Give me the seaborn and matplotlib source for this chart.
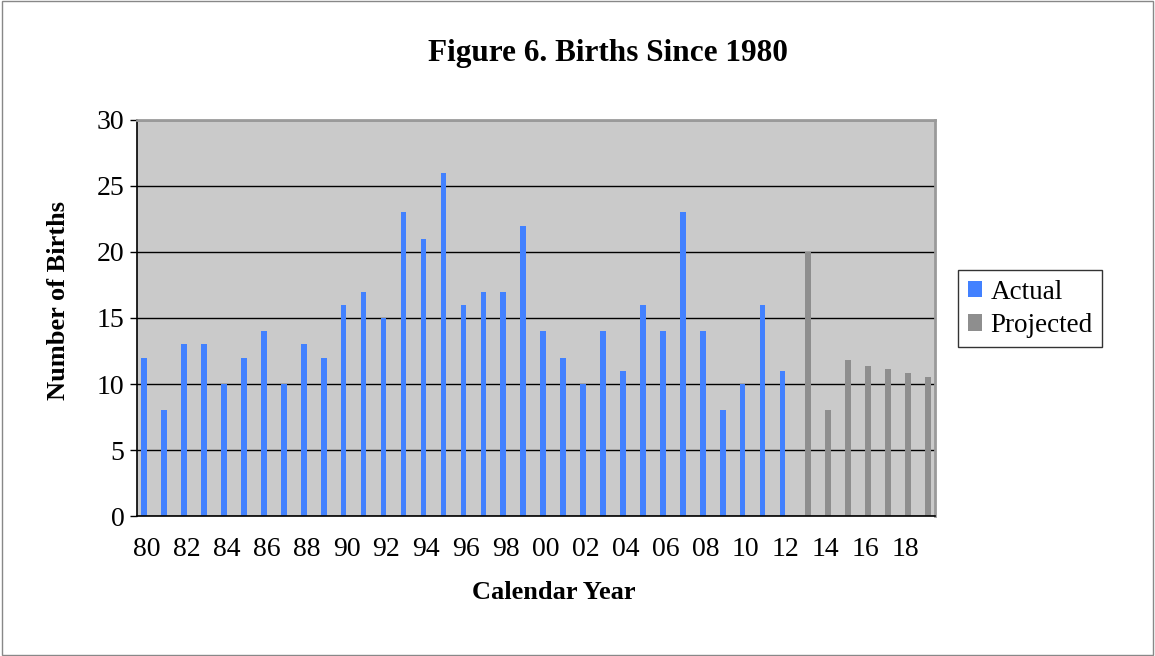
"""Births since 1980: actual vs projected, Excel-style bar chart."""

import matplotlib
matplotlib.use("Agg")
import matplotlib.pyplot as plt
import numpy as np
import pandas as pd
import seaborn as sns
from matplotlib.patches import Rectangle

YEARS = [f"{y % 100:02d}" for y in range(1980, 2020)]
ACTUAL_YEARS = YEARS[:33]
PROJECTED_YEARS = YEARS[33:]
ACTUAL = [12, 8, 13, 13, 10, 12, 14, 10, 13, 12, 16, 17, 15, 23, 21, 26, 16,
          17, 17, 22, 14, 12, 10, 14, 11, 16, 14, 23, 14, 8, 10, 16, 11]
PROJECTED = [20, 8, 11.8, 11.4, 11.1, 10.8, 10.5]

BLUE = "#4281ff"
GREY = "#8e8e8e"
SERIF = ["Liberation Serif", "DejaVu Serif"]


def main() -> None:
    df = pd.concat([
        pd.DataFrame({"year": ACTUAL_YEARS, "births": ACTUAL, "series": "Actual"}),
        pd.DataFrame({"year": PROJECTED_YEARS, "births": PROJECTED, "series": "Projected"}),
    ], ignore_index=True)

    sns.set_theme(style="white")
    plt.rcParams["font.family"] = SERIF
    for key in ("text.color", "axes.labelcolor", "xtick.color", "ytick.color"):
        plt.rcParams[key] = "black"

    fig = plt.figure(figsize=(11.55, 6.56), dpi=100)
    ax = fig.add_axes([0.1186, 0.2134, 0.6909, 0.6037])
    ax.set_facecolor("#cacaca")

    sns.barplot(data=df, x="year", y="births", hue="series", order=YEARS,
                hue_order=["Actual", "Projected"], palette=[BLUE, GREY],
                width=0.56, dodge=True, saturation=1, linewidth=0,
                ax=ax, legend=True)

    ax.set_xlim(-0.5, len(YEARS) - 0.5)
    ax.set_ylim(0, 30)
    ax.set_yticks(np.arange(0, 31, 5))
    ax.yaxis.grid(True, color="black", lw=1)
    ax.set_axisbelow(True)

    # Excel style: ticks on category boundaries, labels every other year
    ax.set_xticks(np.arange(-0.5, len(YEARS), 1))
    ax.set_xticklabels([])
    ax.set_xticks(np.arange(0, len(YEARS), 2), minor=True)
    ax.set_xticklabels(YEARS[::2], minor=True)
    ax.tick_params(axis="x", which="major", length=8, width=1, color="black", direction="out")
    ax.tick_params(axis="x", which="minor", length=0, pad=15, labelsize=20)
    ax.tick_params(axis="y", length=5, width=1, color="black", direction="out", pad=4,
                   labelsize=20, left=True)

    for side in ("left", "bottom"):
        ax.spines[side].set_color("black")
        ax.spines[side].set_linewidth(1.2)
    for side in ("top", "right"):
        ax.spines[side].set_color("#9a9a9a")
        ax.spines[side].set_linewidth(2)

    ax.set_xlabel("Calendar Year", fontsize=19, fontweight="bold")
    ax.set_ylabel("Number of Births", fontsize=19, fontweight="bold")
    ax.xaxis.set_label_coords(0.5226, -0.164)
    ax.yaxis.set_label_coords(-0.084, 0.545)
    fig.suptitle("Figure 6. Births Since 1980", fontsize=22.5, fontweight="bold",
                 x=0.526, y=0.94, family=SERIF)

    leg = ax.legend(loc="center left", bbox_to_anchor=(1.029, 0.523), borderaxespad=0,
                    frameon=True, fancybox=False, edgecolor="black", fontsize=19.5,
                    handlelength=0.55, handleheight=0.55, handletextpad=0.3,
                    borderpad=0.35, labelspacing=0.3)
    leg.get_frame().set_linewidth(1)

    fig.patches.append(Rectangle((0.002, 0.002), 0.996, 0.996, transform=fig.transFigure,
                                 fill=False, edgecolor="#888888", lw=1))

    fig.savefig("out.png", dpi=100)


if __name__ == "__main__":
    main()
